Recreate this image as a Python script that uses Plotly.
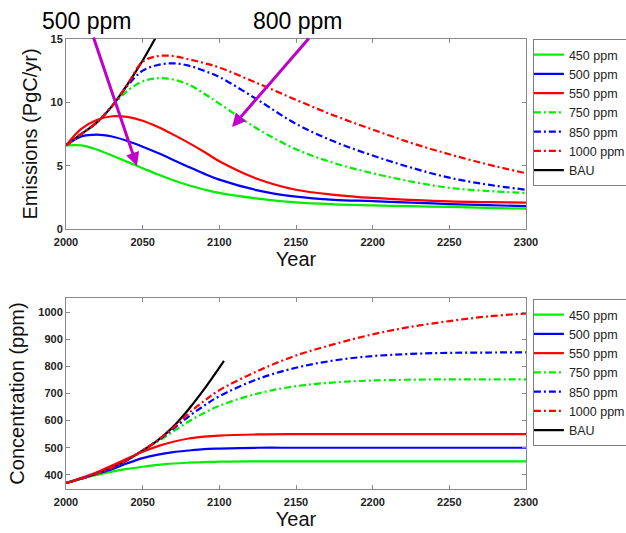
import plotly.graph_objects as go

# ---------------- data ----------------
years = [2000, 2010, 2020, 2030, 2040, 2050, 2060, 2070, 2080, 2090, 2100,
         2125, 2150, 2175, 2200, 2225, 2250, 2275, 2300]
labels = ["450 ppm", "500 ppm", "550 ppm", "750 ppm", "850 ppm", "1000 ppm", "BAU"]

# Emissions (PgC/yr)
em_450 = [6.6, 6.6, 6.28, 5.8, 5.3, 4.8, 4.3, 3.85, 3.45, 3.12, 2.85,
          2.4, 2.1, 1.95, 1.87, 1.8, 1.74, 1.66, 1.6]
em_500 = [6.6, 7.3, 7.45, 7.3, 6.95, 6.5, 6.0, 5.45, 4.9, 4.37, 3.9,
          3.05, 2.55, 2.3, 2.2, 2.08, 1.97, 1.88, 1.8]
em_550 = [6.6, 7.9, 8.6, 8.9, 8.85, 8.55, 8.05, 7.45, 6.8, 6.1, 5.35,
          3.95, 3.1, 2.7, 2.45, 2.3, 2.18, 2.12, 2.08]
em_750 = [6.6, 7.5, 8.4, 9.7, 10.9, 11.65, 11.9, 11.8, 11.4, 10.7, 9.9,
          7.9, 6.3, 5.2, 4.4, 3.75, 3.25, 3.0, 2.85]
em_850 = [6.6, 7.5, 8.4, 9.7, 11.3, 12.5, 12.95, 13.08, 12.9, 12.5, 12.0,
          10.2, 8.3, 6.9, 5.8, 4.85, 4.05, 3.5, 3.1]
em_1000 = [6.6, 7.5, 8.4, 9.7, 11.4, 13.2, 13.65, 13.65, 13.4, 13.1, 12.75,
           11.5, 10.2, 8.95, 7.85, 6.8, 5.9, 5.1, 4.4]
bau_em_years = [2000, 2010, 2020, 2030, 2040, 2050, 2058, 2065]
bau_em = [6.6, 7.5, 8.4, 9.7, 11.4, 13.3, 15.0, 16.5]

# Concentration (ppm)
conc_450 = [370, 386, 400, 412, 422, 430, 437, 442, 445, 447, 449,
            450, 450, 450, 450, 450, 450, 450, 450]
conc_500 = [370, 387, 404, 421, 443, 462, 475, 484, 490, 495, 497,
            500, 500, 500, 500, 500, 500, 500, 500]
conc_550 = [370, 389, 410, 435, 460, 485, 506, 522, 534, 541, 545,
            549, 550, 550, 550, 550, 550, 550, 550]
conc_750 = [370, 386, 404, 426, 455, 490, 524, 560, 597, 628, 655,
            700, 727, 741, 748, 751, 752, 752, 752]
conc_850 = [370, 386, 404, 426, 455, 490, 527, 570, 615, 655, 690,
            753, 795, 822, 838, 846, 850, 851, 852]
conc_1000 = [370, 386, 404, 426, 455, 490, 528, 574, 627, 672, 712,
             783, 840, 882, 918, 946, 967, 984, 995]
bau_conc_years = [2000, 2010, 2020, 2030, 2040, 2050, 2060, 2070, 2080, 2090, 2100, 2103]
bau_conc = [370, 386, 404, 426, 455, 490, 528, 578, 642, 715, 795, 820]

x_ticks = [2000, 2050, 2100, 2150, 2200, 2250, 2300]
em_ticks = [0, 5, 10, 15]
conc_ticks = [400, 500, 600, 700, 800, 900, 1000]

# ---------------- styling ----------------
GREEN, BLUE, RED, BLACK = "#00ee00", "#0000ff", "#ff0000", "#000000"
DASH = "7px,3px,2px,3px"
LW = 2.2
FONT = "Liberation Sans, Arial, Helvetica, sans-serif"

series_em = [
    (labels[0], years, em_450, GREEN, "solid", 1),
    (labels[1], years, em_500, BLUE, "solid", 2),
    (labels[2], years, em_550, RED, "solid", 3),
    (labels[3], years, em_750, GREEN, DASH, 4),
    (labels[4], years, em_850, BLUE, DASH, 5),
    (labels[5], years, em_1000, RED, DASH, 6),
]
series_conc = [
    (labels[0], years, conc_450, GREEN, "solid", 1),
    (labels[1], years, conc_500, BLUE, "solid", 2),
    (labels[2], years, conc_550, RED, "solid", 3),
    (labels[3], years, conc_750, GREEN, DASH, 4),
    (labels[4], years, conc_850, BLUE, DASH, 5),
    (labels[5], years, conc_1000, RED, DASH, 6),
]

fig = go.Figure()

# BAU drawn first (underneath), listed last in legend
fig.add_trace(go.Scatter(x=bau_em_years, y=bau_em, name=labels[6], mode="lines",
                         line=dict(color=BLACK, width=LW, shape="spline"),
                         xaxis="x", yaxis="y", legend="legend", legendrank=7))
fig.add_trace(go.Scatter(x=bau_conc_years, y=bau_conc, name=labels[6], mode="lines",
                         line=dict(color=BLACK, width=LW, shape="spline"),
                         xaxis="x2", yaxis="y2", legend="legend2", legendrank=7))

for name, xs, ys, col, dash, rank in series_em:
    fig.add_trace(go.Scatter(x=xs, y=ys, name=name, mode="lines",
                             line=dict(color=col, width=LW, dash=dash, shape="spline"),
                             xaxis="x", yaxis="y", legend="legend", legendrank=rank))
for name, xs, ys, col, dash, rank in series_conc:
    fig.add_trace(go.Scatter(x=xs, y=ys, name=name, mode="lines",
                             line=dict(color=col, width=LW, dash=dash, shape="spline"),
                             xaxis="x2", yaxis="y2", legend="legend2", legendrank=rank))

axis_common = dict(showline=True, mirror="ticks", linecolor="#8a8a8a", linewidth=1,
                   ticks="inside", ticklen=4, tickcolor="#8a8a8a", showgrid=False,
                   zeroline=False,
                   tickfont=dict(family=FONT, size=11, color="#222222", weight="bold"))
title_font = dict(family=FONT, size=20, color="#111111")

legend_common = dict(bgcolor="white", bordercolor="#808080", borderwidth=1,
                     font=dict(family=FONT, size=12.5, color="#222222"),
                     xref="paper", yref="paper", x=1.015, xanchor="left",
                     yanchor="top", tracegroupgap=0, indentation=-5)

fig.update_layout(
    width=626, height=533,
    margin=dict(l=66, r=100, t=39, b=44, autoexpand=False),
    paper_bgcolor="white", plot_bgcolor="white",
    xaxis=dict(domain=[0, 1], range=[2000, 2300], tickvals=x_ticks, anchor="y",
               ticklabelstandoff=3,
               title=dict(text="Year", font=title_font, standoff=4), **axis_common),
    yaxis=dict(domain=[0.5778, 1.0], range=[0, 15], tickvals=em_ticks, anchor="x",
               title=dict(text="Emissions (PgC/yr)", font=title_font, standoff=7),
               **axis_common),
    xaxis2=dict(domain=[0, 1], range=[2000, 2300], tickvals=x_ticks, anchor="y2",
                ticklabelstandoff=3,
                title=dict(text="Year", font=title_font, standoff=4), **axis_common),
    yaxis2=dict(domain=[0, 0.4244], range=[348, 1052], tickvals=conc_ticks, anchor="x2",
                title=dict(text="Concentration (ppm)", font=title_font, standoff=8),
                **axis_common),
    legend=dict(y=1.0, **legend_common),
    legend2=dict(y=0.4222, **legend_common),
    annotations=[
        dict(text="500 ppm", xref="paper", yref="paper", x=0.0457, y=1.04,
             xanchor="center", yanchor="middle", showarrow=False,
             font=dict(family=FONT, size=23, color="black")),
        dict(text="800 ppm", xref="paper", yref="paper", x=0.5043, y=1.04,
             xanchor="center", yanchor="middle", showarrow=False,
             font=dict(family=FONT, size=23, color="black")),
        dict(text="", xref="x", yref="y", x=2046.3, y=4.97, ax=-44, ay=-130,
             showarrow=True, arrowhead=2, arrowsize=0.9, arrowwidth=3,
             arrowcolor="#c000c8"),
        dict(text="", xref="x", yref="y", x=2108.3, y=8.05, ax=78, ay=-90,
             showarrow=True, arrowhead=2, arrowsize=0.9, arrowwidth=3,
             arrowcolor="#c000c8"),
    ],
)

fig.write_html("out.html", config={"displayModeBar": False},
               post_script="document.body.style.margin='0';document.body.style.padding='0';")
